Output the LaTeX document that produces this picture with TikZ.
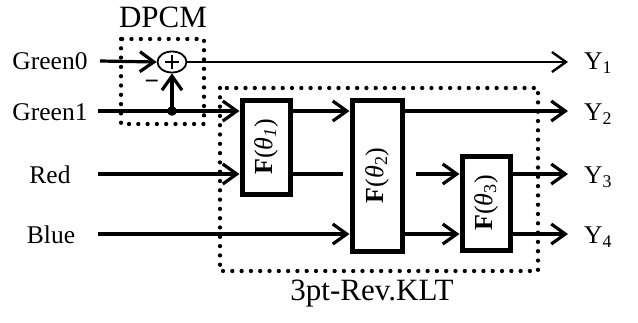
\documentclass[tikz,border=0pt]{standalone}
\usepackage{fontspec}
\setmainfont{Liberation Serif}
\usetikzlibrary{arrows.meta,shapes.geometric}
\begin{document}
\begin{tikzpicture}[x=1pt,y=-1pt,
  lbl/.style={font=\fontsize{25.5}{30}\selectfont, inner sep=0pt},
  big/.style={font=\fontsize{31}{36}\selectfont, inner sep=0pt},
  wire/.style={line width=3.2pt},
  tip/.style={-{Straight Barb[length=14pt,width=20pt]}},
  arr/.style={wire,tip},
  fbox/.style={draw, line width=5pt, fill=white, inner sep=0pt},
  dotbox/.style={line width=4.3pt, line cap=round, dash pattern=on 0pt off 9.3pt},
  ftext/.style={rotate=90, font=\fontsize{26}{30}\selectfont}]
\useasboundingbox (0,0) rectangle (638,322);
% dotted boxes
\draw[dotbox] (121,39) rectangle (204,124);
\draw[dotbox] (220,88) rectangle (538,271);
% labels
\node[big] (dpcm) at (163,17) {DPCM};
\node[big] (klt) at (372,294) {3pt-Rev.KLT};
\node[lbl] (g0) at (50,61) {Green0};
\node[lbl] (g1) at (50,112) {Green1};
\node[lbl] (rd) at (50,175) {Red};
\node[lbl] (bl) at (51,235) {Blue};
% start coordinates
\coordinate (s0) at (100,61);
\coordinate (s1) at (98,111);
\coordinate (s2) at (98,174);
\coordinate (s3) at (98,234);
% boxes
\node[fbox, minimum width=48pt, minimum height=94pt] (f1) at (266,147) {};
\node[ftext] at (f1) {\textbf{F}(\textit{θ}\textsubscript{\textit{1}})};
\node[fbox, minimum width=50pt, minimum height=151pt] (f2) at (377,175.5) {};
\node[ftext] at (f2) {\textbf{F}(\textit{θ}\textsubscript{2})};
\node[fbox, minimum width=48pt, minimum height=94pt] (f3) at (486,203) {};
\node[ftext] at (f3) {\textbf{F}(\textit{θ}\textsubscript{3})};
% adder
\node[draw, ellipse, line width=1.8pt, minimum width=29pt, minimum height=21pt, inner sep=0pt] (add) at (172,62) {};
\draw[line width=2pt] (add.center) ++(-7,0) -- ++(14,0) (add.center) ++(0,-7) -- ++(0,14);
\fill (172,111) circle (4.8pt) coordinate (jn);
\node[lbl] (minus) at (152,85) {\textbf{−}};
% end coordinates and outputs
\coordinate (e1) at (568,60);
\coordinate (e2) at (568,111);
\coordinate (e3) at (568,174);
\coordinate (e4) at (568,234);
\node[lbl, anchor=west] (y1) at (584,63) {Y\textsubscript{1}};
\node[lbl, anchor=west] (y2) at (584,114) {Y\textsubscript{2}};
\node[lbl, anchor=west] (y3) at (584,177) {Y\textsubscript{3}};
\node[lbl, anchor=west] (y4) at (584,237) {Y\textsubscript{4}};
% wires
\draw[arr] (s0) -- (add.west);
\draw[arr] (jn) -- (add.south);
\draw[tip, line width=2.4pt] (add.east) -- (add.east -| e1);
\draw[arr] (s1) -- (s1 -| f1.west);
\draw[arr] (s2) -- (s2 -| f1.west);
\draw[arr] (s3) -- (s3 -| f2.west);
\draw[arr] (f1.east |- s1) -- (s1 -| f2.west);
\coordinate (m1) at (343,174);
\coordinate (m2) at (416,174);
\draw[wire] (f1.east |- s2) -- (m1);
\draw[arr] (m2) -- (m2 -| f3.west);
\draw[arr] (f2.east |- s3) -- (s3 -| f3.west);
\draw[arr] (f2.east |- e2) -- (e2);
\draw[arr] (f3.east |- e3) -- (e3);
\draw[arr] (f3.east |- e4) -- (e4);
\end{tikzpicture}
\end{document}
